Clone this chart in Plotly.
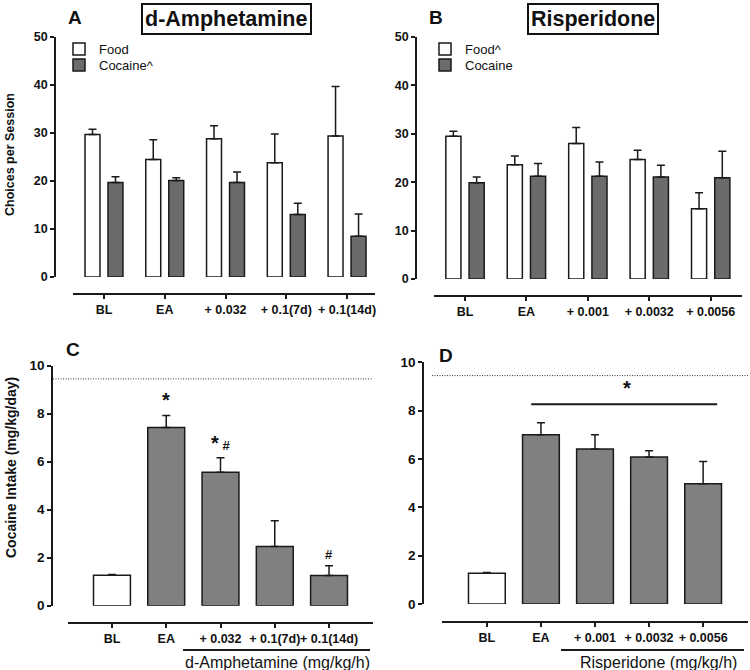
import plotly.graph_objects as go

# ---------------- data ----------------
a_categories = ["BL", "EA", "+ 0.032", "+ 0.1(7d)", "+ 0.1(14d)"]
a_food = [29.7, 24.5, 28.8, 23.8, 29.4]
a_food_err = [1.1, 4.1, 2.7, 6.0, 10.3]
a_cocaine = [19.7, 20.1, 19.7, 13.0, 8.5]
a_cocaine_err = [1.2, 0.6, 2.2, 2.35, 4.6]

b_categories = ["BL", "EA", "+ 0.001", "+ 0.0032", "+ 0.0056"]
b_food = [29.5, 23.6, 28.0, 24.7, 14.5]
b_food_err = [1.05, 1.8, 3.3, 1.9, 3.3]
b_cocaine = [19.9, 21.25, 21.25, 21.1, 20.9]
b_cocaine_err = [1.2, 2.6, 2.9, 2.4, 5.5]

c_intake = [1.27, 7.43, 5.56, 2.47, 1.26]
c_intake_err = [0.03, 0.5, 0.6, 1.07, 0.4]
c_marks = ["", "*", "* #", "", "#"]

d_intake = [1.27, 7.0, 6.41, 6.08, 4.98]
d_intake_err = [0.03, 0.5, 0.59, 0.26, 0.92]
d_sig_value = 8.26

ref_intake = 9.45
a_legend = ["Food", "Cocaine^"]
b_legend = ["Food^", "Cocaine"]

# ---------------- style ----------------
W, H = 750, 670
FONT = "Liberation Sans, Arial, sans-serif"
DARK = "#6b6b6b"
MID = "#808080"
LINE = "#1a1a1a"


def px(p):
    return p / W


def py(p):
    return 1 - p / H


fig = go.Figure()


def err(arr):
    return dict(type="data", array=arr, arrayminus=[0] * len(arr), symmetric=False,
                color=LINE, thickness=1.5, width=4)


def bar_marker(color):
    return dict(color=color, line=dict(color=LINE, width=1.5))


# Panel A
fig.add_trace(go.Bar(x=a_categories, y=a_food, name=a_legend[0], marker=bar_marker("white"),
                     error_y=err(a_food_err), xaxis="x", yaxis="y", legend="legend"))
fig.add_trace(go.Bar(x=a_categories, y=a_cocaine, name=a_legend[1], marker=bar_marker(DARK),
                     error_y=err(a_cocaine_err), xaxis="x", yaxis="y", legend="legend3"))
# Panel B
fig.add_trace(go.Bar(x=b_categories, y=b_food, name=b_legend[0], marker=bar_marker("white"),
                     error_y=err(b_food_err), xaxis="x2", yaxis="y2", legend="legend2"))
fig.add_trace(go.Bar(x=b_categories, y=b_cocaine, name=b_legend[1], marker=bar_marker(DARK),
                     error_y=err(b_cocaine_err), xaxis="x2", yaxis="y2", legend="legend4"))
# Panel C
c_colors = ["white"] + [MID] * (len(c_intake) - 1)
fig.add_trace(go.Bar(x=a_categories, y=c_intake, width=0.68, marker=bar_marker(c_colors),
                     error_y=err(c_intake_err), xaxis="x3", yaxis="y3", showlegend=False))
# Panel D
d_colors = ["white"] + [MID] * (len(d_intake) - 1)
fig.add_trace(go.Bar(x=b_categories, y=d_intake, width=0.68, marker=bar_marker(d_colors),
                     error_y=err(d_intake_err), xaxis="x4", yaxis="y4", showlegend=False))


def xax(domain, pos, rng):
    return dict(domain=domain, anchor="free", position=pos, range=rng, type="category",
                showline=True, linecolor=LINE, linewidth=1.5, ticks="outside", ticklen=4,
                tickcolor=LINE, tickwidth=1.5, tickangle=0, showgrid=False, zeroline=False,
                automargin=False, mirror=False,
                tickfont=dict(family=FONT, size=12.5, color="#111", weight="bold"), fixedrange=True)


def yax(domain, pos, rng, dtick, fsize):
    return dict(domain=domain, anchor="free", position=pos, range=rng, dtick=dtick,
                showline=True, linecolor=LINE, linewidth=1.5, ticks="outside", ticklen=4,
                tickcolor=LINE, tickwidth=1.5, showgrid=False, zeroline=False,
                automargin=False, mirror=False,
                tickfont=dict(family=FONT, size=fsize, color="#111", weight="bold"), fixedrange=True)


def leg(x, y):
    return dict(x=px(x), y=py(y), xref="container", yref="container", xanchor="left",
                yanchor="middle", bgcolor="rgba(0,0,0,0)",
                font=dict(family=FONT, size=13, color="#111"), tracegroupgap=0)


fig.update_layout(
    template="simple_white",
    width=W, height=H, autosize=False, margin=dict(l=0, r=0, t=0, b=0, pad=0, autoexpand=False),
    paper_bgcolor="white", plot_bgcolor="rgba(0,0,0,0)",
    barmode="group", bargap=0.243, bargroupgap=0.35,
    font=dict(family=FONT, color="#111"),
    xaxis=xax([px(73), px(375)], py(294), [-0.51, 4.46]),
    yaxis=yax([py(277), py(37)], px(55), [0, 50], 10, 12.5),
    xaxis2=xax([px(434), px(742)], py(296), [-0.505, 4.51]),
    yaxis2=yax([py(279), py(37)], px(416), [0, 50], 10, 12.5),
    xaxis3=xax([px(68), px(373)], py(623), [-0.81, 4.81]),
    yaxis3=yax([py(605.7), py(365.7)], px(52), [0, 10], 2, 13.5),
    xaxis4=xax([px(442), px(748)], py(622), [-0.83, 4.83]),
    yaxis4=yax([py(604), py(362.3)], px(423), [0, 10], 2, 13.5),
    legend=leg(59, 49),
    legend3=leg(59, 65),
    legend2=leg(425, 49),
    legend4=leg(425, 65),
)

ann = []


def paper_text(text, x, y, size, **kw):
    d = dict(text=text, x=px(x), y=py(y), xref="paper", yref="paper", xanchor="center",
             yanchor="middle", showarrow=False, font=dict(family=FONT, size=size, color="#111"))
    d.update(kw)
    return d


# panel letters
for letter, x, y in [("A", 75, 18), ("B", 436, 18), ("C", 73, 349), ("D", 446, 355)]:
    ann.append(paper_text(f"<b>{letter}</b>", x, y, 19))
# boxed titles
for title, x in [("d-Amphetamine", 226), ("Risperidone", 593)]:
    ann.append(paper_text(f"<b>{title}</b>", x, 19, 21.5, bordercolor="#111", borderwidth=2,
                          borderpad=2, bgcolor="white"))
# y axis titles
ann.append(paper_text("<b>Choices per Session</b>", 10, 155, 12.5, textangle=-90))
ann.append(paper_text("<b>Cocaine Intake (mg/kg/day)</b>", 11, 468, 14, textangle=-90))
# bottom drug labels
for label, x in [("d-Amphetamine (mg/kg/h)", 277), ("Risperidone (mg/kg/h)", 658)]:
    ann.append(paper_text(label, x, 662, 16))
# significance marks in C
for cat, v, e, m in zip(a_categories, c_intake, c_intake_err, c_marks):
    if m:
        txt = m.replace("*", "<span style='font-size:20px'><b>*</b></span>").replace("#", "<b>#</b>")
        ann.append(dict(text=txt, x=cat, y=v + e, xref="x3", yref="y3", xanchor="center",
                        yanchor="bottom", yshift=2, showarrow=False,
                        font=dict(family=FONT, size=13, color="#111")))
# star over bracket in D
ann.append(dict(text="<b>*</b>", x=2.6, y=d_sig_value, xref="x4", yref="y4", xanchor="center",
                yanchor="bottom", yshift=3, showarrow=False, font=dict(family=FONT, size=20, color="#111")))
fig.update_layout(annotations=ann)

dots = dict(color="#333", width=1, dash="1px,1.5px")
solid = dict(color=LINE, width=2)
shapes = [
    # reference dotted lines
    dict(type="line", xref="paper", yref="y3", x0=px(53), x1=px(373), y0=ref_intake, y1=ref_intake,
         line=dots, opacity=1),
    dict(type="line", xref="paper", yref="y4", x0=px(432), x1=px(748), y0=ref_intake, y1=ref_intake,
         line=dots, opacity=1),
    # D significance bracket
    dict(type="line", xref="x4", yref="y4", x0=0.82, x1=4.26, y0=d_sig_value, y1=d_sig_value,
         line=solid, opacity=1),
    # underline for drug labels
    dict(type="line", xref="paper", yref="paper", x0=px(183), x1=px(370), y0=py(650), y1=py(650),
         line=solid, opacity=1),
    dict(type="line", xref="paper", yref="paper", x0=px(561), x1=px(744), y0=py(650), y1=py(650),
         line=solid, opacity=1),
]
fig.update_layout(shapes=shapes)

# pin the figure to the window's top-left corner (no default page margin / scrolling)
pin_js = (
    "document.documentElement.style.margin='0';"
    "document.body.style.margin='0';"
    "document.body.style.overflow='hidden';"
    "var g=document.getElementById('{plot_id}');"
    "g.style.position='fixed';g.style.left='0px';g.style.top='0px';"
)
fig.write_html("out.html", config={"displayModeBar": False}, post_script=pin_js)
